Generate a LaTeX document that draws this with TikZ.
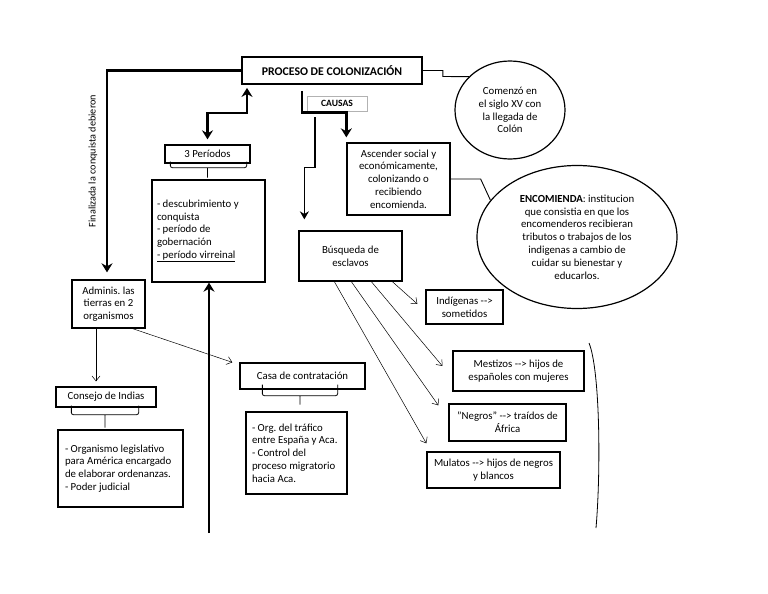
\documentclass[tikz,border=0pt]{standalone}
\usepackage{fontspec}
\setmainfont{Carlito}
\frenchspacing
\usetikzlibrary{arrows.meta, positioning, shapes.geometric, calc}

\begin{document}
\begin{tikzpicture}[
  x=1pt, y=-1pt,
  every node/.style={font=\fontsize{10.8}{12.8}\selectfont, inner sep=3pt},
  box/.style={rectangle, draw, line width=1.3pt, align=center},
  listbox/.style={box, align=flush left, inner sep=5pt},
  ovalbox/.style={ellipse, draw, line width=1.2pt, align=center, inner sep=0pt},
  bigarrow/.style={-{Stealth[length=9pt, width=11pt]}, line width=2.8pt},
  bigboth/.style={bigarrow, {Stealth[length=9pt, width=11pt]}-{Stealth[length=9pt, width=11pt]}},
  medarrow/.style={-{Stealth[length=8pt, width=9pt]}, line width=1.5pt},
  thinarrow/.style={-{Straight Barb[length=5pt, width=8pt]}, line width=0.5pt},
  bracket/.style={line width=0.8pt, rounded corners=2pt}
]
  \fill[white] (0,0) rectangle (768,594);
  \useasboundingbox (0,0) rectangle (768,594);

  % top of the map
  \node[box, line width=1.8pt, minimum width=180pt, minimum height=27pt,
        font=\fontsize{11.8}{13}\selectfont\bfseries] (proceso) at (332,70.5) {PROCESO DE COLONIZACIÓN};
  \node[rectangle, draw=gray!60, line width=0.6pt, minimum width=60pt, minimum height=15pt,
        font=\fontsize{9.6}{11}\selectfont\bfseries] (causas) at (337,103.5) {CAUSAS};
  \node[ovalbox, minimum width=110pt, minimum height=98pt] (comenzo) at (510,110)
    {Comenzó en\\ el siglo XV con\\ la llegada de\\ Colón};

  % causes
  \node[box, minimum width=103pt, minimum height=72pt] (ascender) at (398.5,179)
    {Ascender social y\\ económicamente,\\ colonizando o\\ recibiendo\\ encomienda.};
  \node[ovalbox, minimum width=200pt, minimum height=143pt] (encomienda) at (577,237)
    {\textbf{ENCOMIENDA}: institucion\\ que consistia en que los\\ encomenderos recibieran\\ tributos o trabajos de los\\ indigenas a cambio de\\ cuidar su bienestar y\\ educarlos.};
  \node[box, minimum width=103pt, minimum height=50pt] (busqueda) at (350.5,256) {Búsqueda de\\ esclavos};
  \node[box, minimum width=77pt, minimum height=34pt] (indigenas) at (464.5,307) {Indígenas -{}->\\ sometidos};
  \node[box, minimum width=131pt, minimum height=40pt] (mestizos) at (518.5,371) {Mestizos -{}-> hijos de\\ españoles con mujeres};
  \node[box, minimum width=117pt, minimum height=37pt] (negros) at (507.5,422.5) {"Negros" -{}-> traídos de\\ África};
  \node[box, minimum width=133pt, minimum height=36pt] (mulatos) at (493.5,470) {Mulatos -{}-> hijos de negros\\ y blancos};

  % periods
  \node[box, minimum width=85pt, minimum height=18pt] (periodos) at (207.5,154) {3 Períodos};
  \node[listbox, minimum width=113pt, minimum height=102pt, text width=103pt] (descub) at (208.5,231)
    {- descubrimiento y\\ conquista\\ - período de\\ gobernación\\ \underline{- período virreinal}};

  % administration
  \node[box, minimum width=73pt, minimum height=48pt] (adminis) at (108.5,304) {Adminis. las\\ tierras en 2\\ organismos};
  \node[box, minimum width=100pt, minimum height=20pt] (consejo) at (106,397) {Consejo de Indias};
  \node[listbox, minimum width=125pt, minimum height=77pt, text width=111pt] (organismo) at (120.5,468.5)
    {- Organismo legislativo\\ para América encargado\\ de elaborar ordenanzas.\\ - Poder judicial};
  \node[box, minimum width=125pt, minimum height=26pt] (casa) at (302.5,376) {Casa de contratación};
  \node[listbox, minimum width=101pt, minimum height=82pt, text width=89pt] (org) at (296.5,453)
    {- Org. del tráfico\\ entre España y Aca.\\ - Control del\\ proceso migratorio\\ hacia Aca.};

  \node[rotate=90, font=\fontsize{10.2}{12}\selectfont] (finalizada) at (93,161) {Finalizada la conquista debieron};

  % connectors
  \draw[bigarrow, shorten >=7pt] (proceso.west) -| ([xshift=-1.5pt]adminis.north);
  \draw[line width=0.9pt] (proceso.east) -- ++(20,0) -- ++(0,6) -- (comenzo.141);
  \draw[bigboth, shorten <=3pt, shorten >=5pt] ([xshift=-85pt]proceso.south) -- ++(0,28) -| (periodos.north);
  \draw[bigarrow, shorten >=5pt] ([xshift=-30pt, yshift=-6pt]proceso.south) |- ([yshift=30pt]ascender.north west) -- (ascender.north west);
  \draw[medarrow, shorten >=11pt] ([xshift=-22pt, yshift=-6pt]causas.south) -- ++(0,50) -| ([xshift=6pt]busqueda.north west);
  \draw[line width=0.9pt] (ascender.east) -- ++(30,0) -- (encomienda.157);

  \coordinate (vbottom) at (209,533);
  \draw[bigarrow, line width=2.2pt] (vbottom) -- (vbottom |- descub.south);

  \draw[thinarrow] ([xshift=94pt]busqueda.south west) -- ([xshift=-8pt, yshift=3pt]indigenas.west);
  \draw[thinarrow] ([xshift=73pt]busqueda.south west) -- ([xshift=-10pt, yshift=5pt]mestizos.west);
  \draw[thinarrow] ([xshift=53pt]busqueda.south west) -- ([xshift=-10pt, yshift=-2pt]negros.north west);
  \draw[thinarrow] ([xshift=36pt]busqueda.south west) -- ([yshift=8pt]mulatos.north west);

  \draw[thinarrow, shorten >=5pt] ([xshift=-12.5pt]adminis.south) -- ([xshift=-12.5pt]adminis.south |- consejo.north);
  \draw[thinarrow] ([xshift=-13pt]adminis.south east) -- ([xshift=-7pt]casa.north west);

  % brackets
  \draw[bracket] ([xshift=6pt, yshift=2pt]periodos.south west) |- ([xshift=-4pt, yshift=-4pt]periodos.south east)
    -- ([xshift=-4pt, yshift=2pt]periodos.south east)
    ([yshift=-4pt]periodos.south) -- ([yshift=-14pt]periodos.south);
  \draw[bracket] ([xshift=16pt, yshift=2pt]consejo.south west) |- ([xshift=-18pt, yshift=-7pt]consejo.south east)
    -- ([xshift=-18pt, yshift=2pt]consejo.south east)
    ([xshift=-1pt, yshift=-7pt]consejo.south) -- ([xshift=-1pt, yshift=-20pt]consejo.south);
  \draw[bracket] ([xshift=23pt, yshift=5pt]casa.south west) |- ([xshift=-28pt, yshift=-6pt]casa.south east)
    -- ([xshift=-28pt, yshift=5pt]casa.south east)
    ([xshift=-2.5pt, yshift=-6pt]casa.south) -- ([xshift=-2.5pt, yshift=-15pt]casa.south);
  \draw[line width=0.8pt] (589,343) .. controls (600,370) and (601,470) .. (596,528);
\end{tikzpicture}
\end{document}
